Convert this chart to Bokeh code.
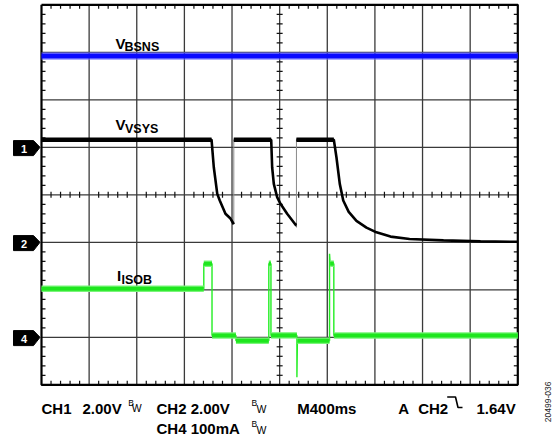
import math
from bokeh.plotting import figure
from bokeh.models import Range1d
from bokeh.core.properties import value
from bokeh.embed import file_html
from bokeh.resources import INLINE

# ---------------- data (time in ms, 400 ms/div; level in screen divisions, 0 = centre) ----------------
MS_PER_DIV = 400
N_XDIV = 10
N_YDIV = 8

vbsns_t = [0, 4000]
vbsns_v = [2.92, 2.92]

vvsys_t = [0, 1428, 1447, 1476, 1497, 1545, 1587, 1615, 1615,
           1929, 1937, 1951, 1979, 2007, 2063, 2137, 2141, 2141,
           2455, 2477, 2505, 2534, 2580, 2645, 2729, 2813, 2931, 3091, 3376, 3687, 4000]
vvsys_v = [1.16, 1.16, 0.58, 0.02, -0.12, -0.40, -0.50, -0.62, 1.16,
           1.16, 0.58, 0.23, -0.05, -0.19, -0.40, -0.64, -0.64, 1.16,
           1.16, 0.79, 0.23, -0.12, -0.36, -0.55, -0.69, -0.79, -0.88, -0.93, -0.96, -0.98, -0.99]

isob_t = [0, 1363, 1363, 1432, 1432, 1633, 1633, 1909, 1909, 1927,
          1927, 2145, 2145, 2149, 2419, 2419, 2424, 2455, 2455, 4000]
isob_v = [-1.98, -1.98, -1.45, -1.45, -2.96, -2.96, -3.07, -3.07, -1.45, -1.45,
          -2.96, -2.96, -3.84, -3.07, -3.07, -1.24, -1.45, -1.45, -2.96, -2.96]

marker_levels = [1, -1, -3]
marker_labels = ["1", "2", "4"]

trace_names = [("V", "BSNS"), ("V", "VSYS"), ("I", "ISOB")]

readout_line1 = ["CH1", "2.00V", "CH2 2.00V", "M400ms", "A", "CH2", "1.64V"]
readout_line2 = ["CH4 100mA"]
figure_id = "20499-036"

# ---------------- geometry helpers (screen px -> data) ----------------
X_PER_PX = 4000 / 476.3
Y_PX_PER_DIV = 47.5


def xd(px):
    return (px - 41.0) * X_PER_PX


def yd(py):
    return (194.3 - py) / Y_PX_PER_DIV


FONT = value("Liberation Sans")

p = figure(width=552, height=435, output_backend="svg", toolbar_location=None, tools="",
           x_axis_location=None, y_axis_location=None,
           x_range=Range1d(xd(0), xd(552)), y_range=Range1d(yd(435), yd(0)),
           min_border=0, min_border_left=0, min_border_right=0, min_border_top=0, min_border_bottom=0,
           margin=(0, 0, 0, 0))
p.outline_line_color = None
p.background_fill_color = "white"
p.border_fill_color = "white"
p.xgrid.visible = False
p.ygrid.visible = False

x_end = N_XDIV * MS_PER_DIV
y_top = N_YDIV / 2
y_bot = -N_YDIV / 2

# major grid
gx = [i * MS_PER_DIV for i in range(1, N_XDIV)]
p.segment(x0=gx, y0=[y_bot] * len(gx), x1=gx, y1=[y_top] * len(gx), line_color="#3a3a3a", line_width=1.3)
gy = [y_bot + i for i in range(1, N_YDIV)]
p.segment(x0=[0] * len(gy), y0=gy, x1=[x_end] * len(gy), y1=gy, line_color="#3a3a3a", line_width=1.3)

# minor ticks (every 0.2 div)
tl_x = 4 * X_PER_PX
tl_y = 4 / Y_PX_PER_DIV
cl_x = 3 * X_PER_PX
cl_y = 3 / Y_PX_PER_DIV
mx = [k * MS_PER_DIV / 5 for k in range(1, N_XDIV * 5) if k % 5]
my = [y_bot + k / 5 for k in range(1, N_YDIV * 5) if k % 5]
xc = x_end / 2
p.segment(x0=mx, y0=[y_top] * len(mx), x1=mx, y1=[y_top - tl_y] * len(mx), line_color="#111", line_width=1.2)
p.segment(x0=mx, y0=[y_bot] * len(mx), x1=mx, y1=[y_bot + tl_y] * len(mx), line_color="#111", line_width=1.2)
p.segment(x0=mx, y0=[-cl_y] * len(mx), x1=mx, y1=[cl_y] * len(mx), line_color="#111", line_width=1.2)
p.segment(x0=[0] * len(my), y0=my, x1=[tl_x] * len(my), y1=my, line_color="#111", line_width=1.2)
p.segment(x0=[x_end] * len(my), y0=my, x1=[x_end - tl_x] * len(my), y1=my, line_color="#111", line_width=1.2)
p.segment(x0=[xc - cl_x] * len(my), y0=my, x1=[xc + cl_x] * len(my), y1=my, line_color="#111", line_width=1.2)

# border
p.line(x=[0, x_end, x_end, 0, 0], y=[y_top, y_top, y_bot, y_bot, y_top], line_color="black", line_width=2.2)

# ---------------- traces ----------------
p.line(x=vbsns_t, y=vbsns_v, line_color="#6a6aff", line_width=8, line_alpha=0.55)
p.line(x=vbsns_t, y=vbsns_v, line_color="#0a0aff", line_width=5)


def split_edges(t, v):
    xs, ys, ex, ey = [], [], [], []
    for i in range(len(t)):
        if i > 0 and t[i] == t[i - 1]:
            xs.append(float("nan"))
            ys.append(float("nan"))
            ex.append([t[i - 1], t[i]])
            ey.append([v[i - 1], v[i]])
        xs.append(t[i])
        ys.append(v[i])
    return xs, ys, ex, ey


def flats(t, v):
    x0, y0, x1, y1 = [], [], [], []
    for i in range(len(t) - 1):
        if v[i] == v[i + 1] and t[i] != t[i + 1]:
            x0.append(t[i]); y0.append(v[i]); x1.append(t[i + 1]); y1.append(v[i + 1])
    return x0, y0, x1, y1


mx_, my_, ex_, ey_ = split_edges(vvsys_t, vvsys_v)
p.multi_line(xs=ex_, ys=ey_, line_color="#8a8a8a", line_width=1.0)
p.line(x=mx_, y=my_, line_color="black", line_width=2.6)
fx0, fy0, fx1, fy1 = flats(vvsys_t, vvsys_v)
p.segment(x0=fx0, y0=fy0, x1=fx1, y1=fy1, line_color="black", line_width=4.5)

p.line(x=isob_t, y=isob_v, line_color="#22ee22", line_width=1.4)
gx0, gy0, gx1, gy1 = flats(isob_t, isob_v)
p.segment(x0=gx0, y0=gy0, x1=gx1, y1=gy1, line_color="#7af57a", line_width=6.5)
p.segment(x0=gx0, y0=gy0, x1=gx1, y1=gy1, line_color="#1ee61e", line_width=4)

# ---------------- channel markers ----------------
mk_xs, mk_ys = [], []
for lv in marker_levels:
    c = lv - 0.8 / Y_PX_PER_DIV
    h = 7.5 / Y_PX_PER_DIV
    mk_xs.append([xd(13), xd(33), xd(39.5), xd(33), xd(13)])
    mk_ys.append([c + h, c + h, lv, c - h, c - h])
p.patches(xs=mk_xs, ys=mk_ys, fill_color="black", line_color="black", line_width=1)
p.text(x=[xd(23.5)] * len(marker_levels), y=[lv - 1.2 / Y_PX_PER_DIV for lv in marker_levels], text=marker_labels,
       text_font=FONT, text_font_style="bold", text_font_size="11px", text_color="white",
       text_align="center", text_baseline="middle")

# ---------------- trace labels ----------------
main_pos = [(115, 43.3), (115, 124), (116.5, 275)]
sub_pos = [(124, 46.7), (124.5, 128.7), (121, 279)]
p.text(x=[xd(a) for a, b in main_pos], y=[yd(b) for a, b in main_pos], text=[m for m, s in trace_names],
       text_font=FONT, text_font_style="bold", text_font_size="15px", text_color="black",
       text_align="left", text_baseline="alphabetic")
p.text(x=[xd(a) for a, b in sub_pos], y=[yd(b) for a, b in sub_pos], text=[s for m, s in trace_names],
       text_font=FONT, text_font_style="bold", text_font_size="12.5px", text_color="black",
       text_align="left", text_baseline="alphabetic")

# ---------------- readout ----------------
r1_x = [41, 82, 156, 296.7, 397.7, 417.7, 476]
p.text(x=[xd(a) for a in r1_x], y=[yd(408.3)] * len(r1_x), text=readout_line1,
       text_font=FONT, text_font_style="bold", text_font_size="15px", text_color="black",
       text_align="left", text_baseline="alphabetic")
p.text(x=[xd(156)], y=[yd(427.5)], text=readout_line2,
       text_font=FONT, text_font_style="bold", text_font_size="15px", text_color="black",
       text_align="left", text_baseline="alphabetic")
bw_b = [(127.7, 402), (251, 402.5), (251, 423.5)]
bw_w = [(131.3, 407.5), (256, 408.5), (256, 429)]
p.text(x=[xd(a) for a, b in bw_b], y=[yd(b) for a, b in bw_b], text=["B"] * 3,
       text_font=FONT, text_font_size="8.5px", text_color="black", text_align="left", text_baseline="alphabetic")
p.text(x=[xd(a) for a, b in bw_w], y=[yd(b) for a, b in bw_w], text=["W"] * 3,
       text_font=FONT, text_font_size="10.5px", text_color="black", text_align="left", text_baseline="alphabetic")
p.line(x=[xd(446.7), xd(455), xd(457.5), xd(462)], y=[yd(396.5), yd(396.5), yd(407), yd(407)],
       line_color="black", line_width=1.6)

p.text(x=[xd(547)], y=[yd(421.7)], text=[figure_id], angle=math.pi / 2,
       text_font=FONT, text_font_size="8.5px", text_color="#222222",
       text_align="left", text_baseline="alphabetic")

open("out.html", "w").write(file_html(p, INLINE))
